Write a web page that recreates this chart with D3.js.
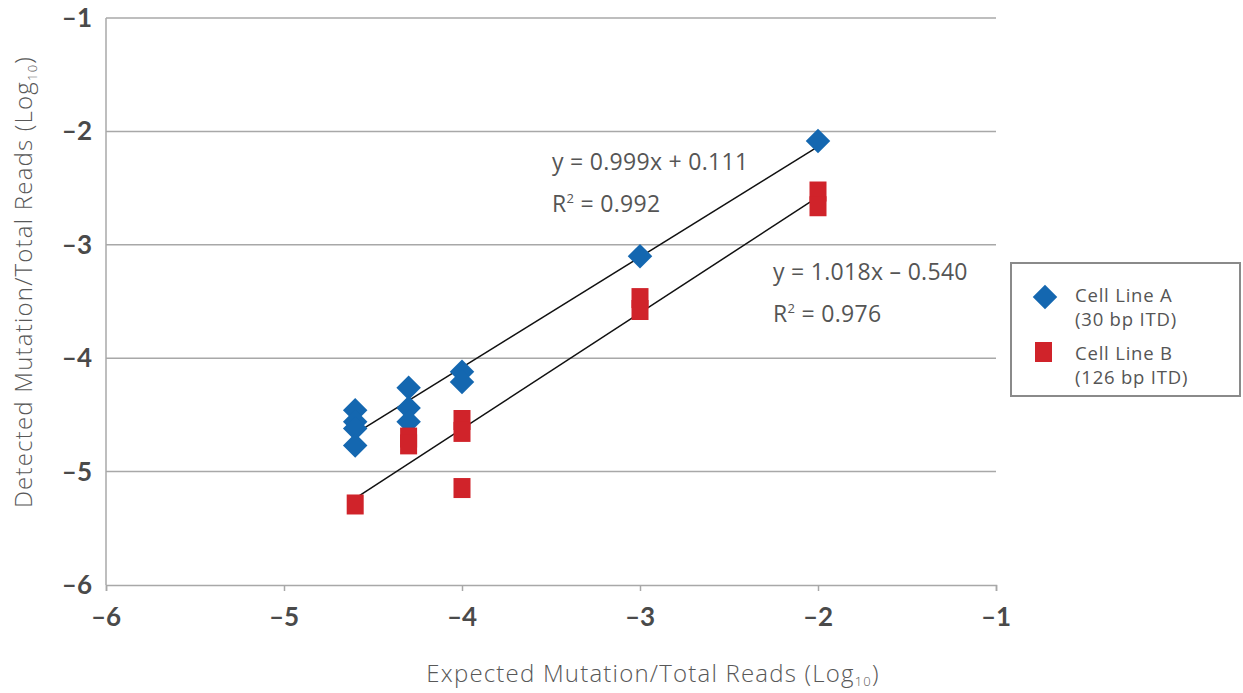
<!DOCTYPE html>
<html lang="en">
<head>
<meta charset="UTF-8">
<title>Detected vs Expected Mutation</title>
<script src="https://d3js.org/d3.v7.min.js"></script>
<style>
  body { margin: 0; background: #fff; }
  svg { font-family: "Open Sans", Lato, sans-serif; }
  .tick-label { font-family: Lato, sans-serif; font-weight: 700; font-size: 26px; fill: #4a4a4a; }
  .axis-title { font-size: 24px; fill: #585858; font-weight: 300; letter-spacing: 1.2px; }
  .eq { font-size: 23px; fill: #555; letter-spacing: 0.3px; }
  .legend-text { font-size: 18.5px; fill: #555; letter-spacing: 0.8px; }
</style>
</head>
<body>
<svg id="chart" width="1243" height="693"></svg>
<script>
// axis ticks (log10)
const xTicks = [-6, -5, -4, -3, -2, -1];
const yTicks = [-1, -2, -3, -4, -5, -6];

// Cell Line A (30 bp ITD)
const aExpected = [-4.6, -4.6, -4.6, -4.6, -4.3, -4.3, -4.3, -4.0, -4.0, -3.0, -2.0];
const aDetected = [-4.46, -4.56, -4.62, -4.77, -4.26, -4.44, -4.56, -4.12, -4.21, -3.10, -2.085];

// Cell Line B (126 bp ITD)
const bExpected = [-4.6, -4.3, -4.3, -4.0, -4.0, -4.0, -3.0, -3.0, -2.0, -2.0];
const bDetected = [-5.29, -4.70, -4.76, -4.545, -4.65, -5.145, -3.47, -3.575, -2.53, -2.66];

const eqA = ["y = 0.999x + 0.111", "0.992"];
const eqB = ["y = 1.018x \u2013 0.540", "0.976"];

const svg = d3.select("#chart");
const x = d3.scaleLinear().domain([-6, -1]).range([106, 996]);
const y = d3.scaleLinear().domain([-6, -1]).range([585, 18]);

// horizontal gridlines
svg.append("g").selectAll("line")
  .data(yTicks.filter(d => d !== -6))
  .enter().append("line")
  .attr("x1", x(-6)).attr("x2", x(-1))
  .attr("y1", d => y(d)).attr("y2", d => y(d))
  .attr("stroke", "#a8a8a8").attr("stroke-width", 1.5);

// left axis line
svg.append("line")
  .attr("x1", x(-6)).attr("x2", x(-6))
  .attr("y1", y(-1)).attr("y2", y(-6))
  .attr("stroke", "#a8a8a8").attr("stroke-width", 1.5);

// bottom axis
const xAxis = svg.append("g")
  .attr("transform", `translate(0,${y(-6)})`)
  .call(d3.axisBottom(x).tickValues(xTicks).tickSize(6).tickFormat(""));
xAxis.select(".domain").attr("stroke", "#a8a8a8").attr("stroke-width", 1.5);
xAxis.selectAll(".tick line").attr("stroke", "#a8a8a8").attr("stroke-width", 1.5);

svg.append("g").selectAll("text")
  .data(xTicks).enter().append("text")
  .attr("class", "tick-label")
  .attr("x", d => x(d)).attr("y", y(-6) + 41)
  .attr("text-anchor", "middle")
  .text(d => "\u2013" + Math.abs(d));

svg.append("g").selectAll("text")
  .data(yTicks).enter().append("text")
  .attr("class", "tick-label")
  .attr("x", 92).attr("y", d => y(d) + 9)
  .attr("text-anchor", "end")
  .text(d => "\u2013" + Math.abs(d));

// axis titles
const xt = svg.append("text").attr("class", "axis-title")
  .attr("x", 653).attr("y", 682).attr("text-anchor", "middle");
xt.append("tspan").text("Expected Mutation/Total Reads (Log");
xt.append("tspan").attr("font-size", 13).attr("dy", 4).text("10");
xt.append("tspan").attr("dy", -4).text(")");

const yt = svg.append("text").attr("class", "axis-title")
  .attr("transform", "translate(32,282) rotate(-90)")
  .attr("text-anchor", "middle");
yt.append("tspan").text("Detected Mutation/Total Reads (Log");
yt.append("tspan").attr("font-size", 13).attr("dy", 5).text("10");
yt.append("tspan").attr("dy", -5).text(")");

// least squares trendline over the data range
function fit(xs, ys) {
  const mx = d3.mean(xs), my = d3.mean(ys);
  const sxy = d3.sum(xs, (v, i) => (v - mx) * (ys[i] - my));
  const sxx = d3.sum(xs, v => (v - mx) * (v - mx));
  const m = sxy / sxx, b = my - m * mx;
  const [lo, hi] = d3.extent(xs);
  return [[lo, m * lo + b], [hi, m * hi + b]];
}
const line = d3.line().x(d => x(d[0])).y(d => y(d[1]));
[fit(aExpected, aDetected), fit(bExpected, bDetected)].forEach(seg => {
  svg.append("path").attr("d", line(seg))
    .attr("stroke", "#111").attr("stroke-width", 1.5).attr("fill", "none");
});

// points
const blue = "#1467b0", red = "#d0232a";
const diamond = d3.symbol().type(d3.symbolSquare).size(300);
svg.append("g").selectAll("path")
  .data(aExpected.map((v, i) => [v, aDetected[i]]))
  .enter().append("path")
  .attr("d", diamond)
  .attr("transform", d => `translate(${x(d[0])},${y(d[1])}) rotate(45)`)
  .attr("fill", blue);

svg.append("g").selectAll("rect")
  .data(bExpected.map((v, i) => [v, bDetected[i]]))
  .enter().append("rect")
  .attr("x", d => x(d[0]) - 8.5).attr("y", d => y(d[1]) - 10)
  .attr("width", 17).attr("height", 20)
  .attr("fill", red);

// equations
function eq(lines, px, py) {
  svg.append("text").attr("class", "eq").attr("x", px).attr("y", py).text(lines[0]);
  const r = svg.append("text").attr("class", "eq").attr("x", px).attr("y", py + 42);
  r.append("tspan").text("R");
  r.append("tspan").attr("font-size", 13).attr("dy", -9).text("2");
  r.append("tspan").attr("dy", 9).text(" = " + lines[1]);
}
eq(eqA, 552, 170);
eq(eqB, 773, 280);

// legend
const lg = svg.append("g").attr("transform", "translate(1011,263)");
lg.append("rect").attr("width", 229).attr("height", 133)
  .attr("fill", "#fff").attr("stroke", "#8a8a8a").attr("stroke-width", 2);
lg.append("path").attr("d", d3.symbol().type(d3.symbolSquare).size(300))
  .attr("transform", "translate(34,34) rotate(45)").attr("fill", blue);
lg.append("rect").attr("x", 24).attr("y", 79).attr("width", 17).attr("height", 20).attr("fill", red);
[["Cell Line A", 39], ["(30 bp ITD)", 63], ["Cell Line B", 97], ["(126 bp ITD)", 121]].forEach(([t, ty]) => {
  lg.append("text").attr("class", "legend-text").attr("x", 64).attr("y", ty).text(t);
});
</script>
</body>
</html>
